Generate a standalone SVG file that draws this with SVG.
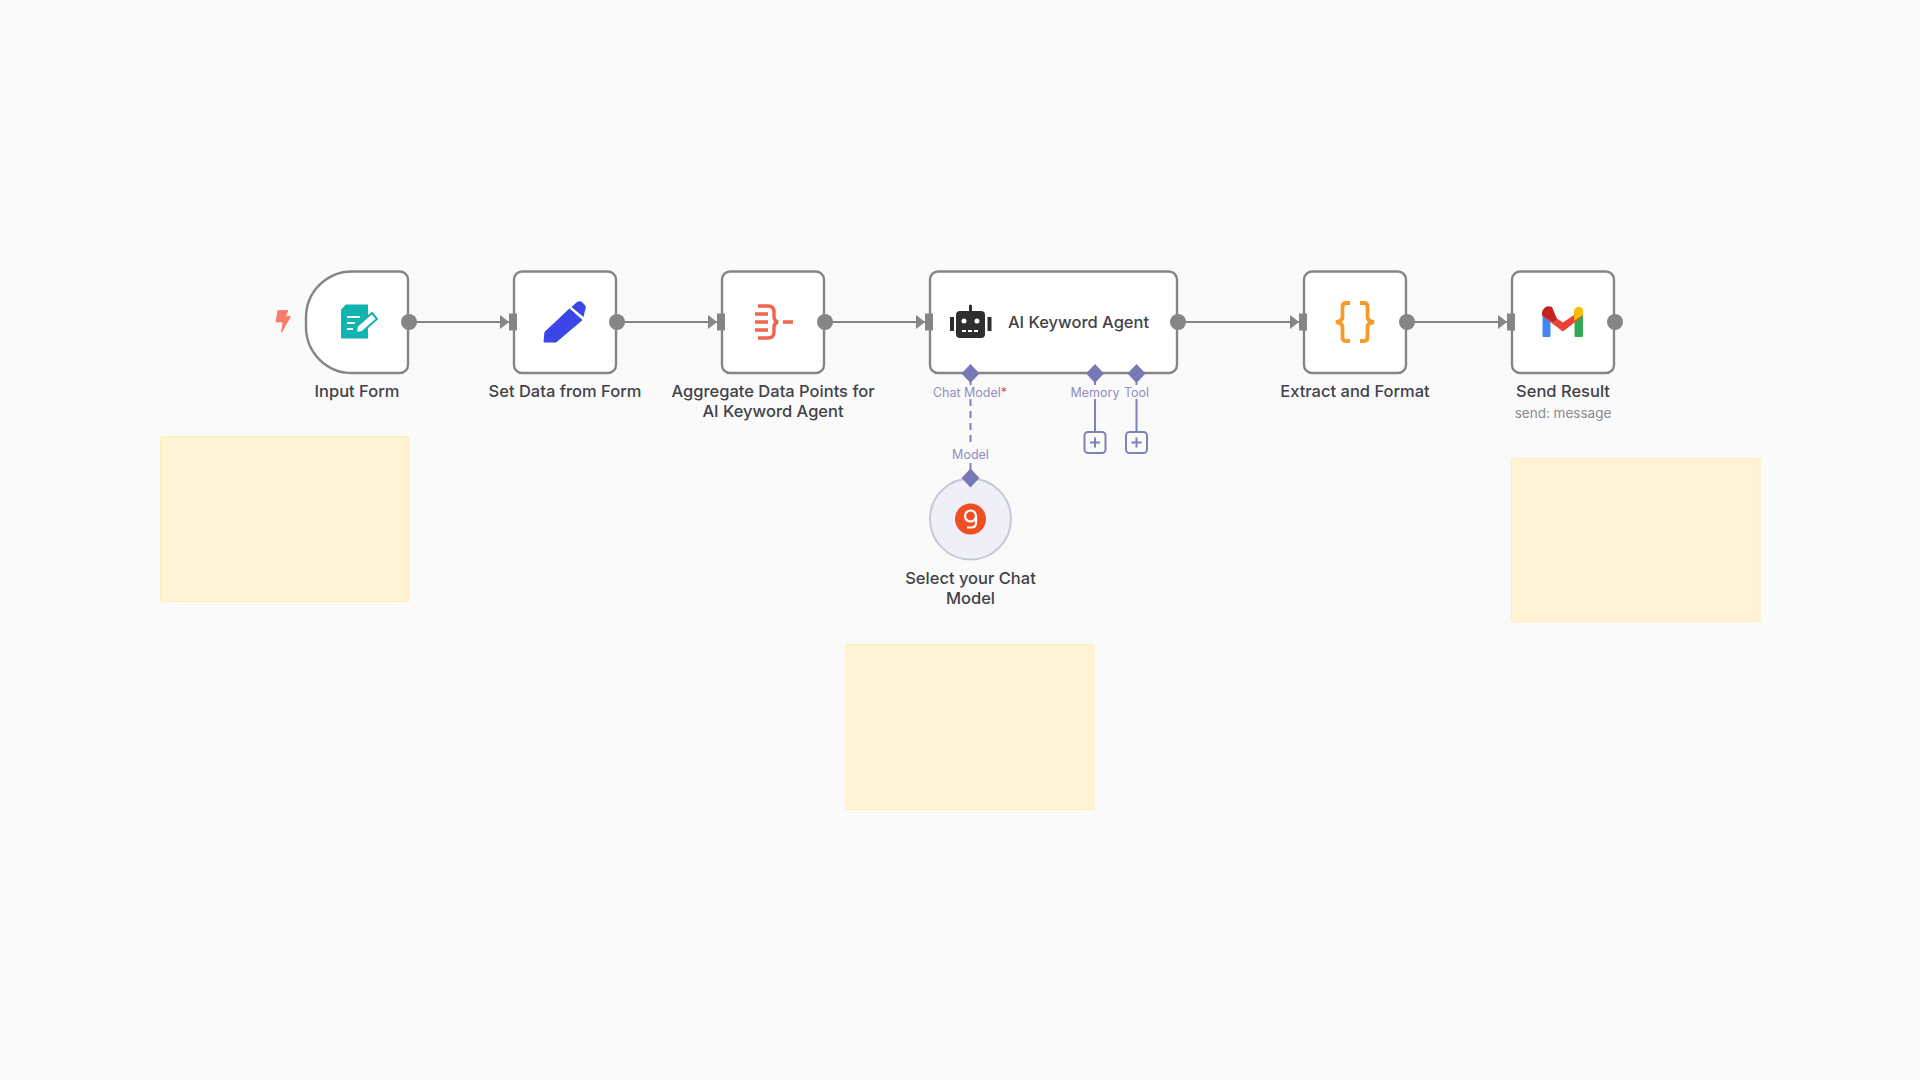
<svg xmlns="http://www.w3.org/2000/svg" width="1920" height="1080" viewBox="0 0 1920 1080">
<defs>
<style>
.node{fill:#fff;stroke:#858585;stroke-width:2.4}
.lbl{font-family:Inter,"Liberation Sans",sans-serif;font-size:16.500px;font-weight:500;fill:#424248;text-anchor:middle}
.sub{font-family:Inter,"Liberation Sans",sans-serif;font-size:13.500px;fill:#8b8b8f;text-anchor:middle}
.port{font-family:Inter,"Liberation Sans",sans-serif;font-size:12.500px;fill:#8f8fbf;text-anchor:middle}
.sticky{fill:#fff3d3;stroke:#fdeec2;stroke-width:1.200}
.edge{fill:none;stroke:#858585;stroke-width:2}
.ai{fill:none;stroke:#7f82b8;stroke-width:2}
.out{fill:#858585}
.dia{fill:#7679b5}
.plus{fill:#fafafa;stroke:#7f82b8;stroke-width:2}
</style>
<marker id="arr" markerWidth="9" markerHeight="16" refX="9" refY="8" orient="auto" markerUnits="userSpaceOnUse"><path d="M0 1L9 8L0 15Z" fill="#858585"/></marker>
</defs>
<rect width="1920" height="1080" fill="#fafafa"/>
<g id="sticky-notes">
<rect class="sticky" x="160.500" y="436.500" width="248.500" height="165" rx="2"/>
<rect class="sticky" x="846" y="644.500" width="248" height="165" rx="2"/>
<rect class="sticky" x="1511.500" y="458" width="248.500" height="164" rx="2"/>
</g>
<g id="connectors">
<path class="edge" d="M409 322H509" marker-end="url(#arr)"/>
<path class="edge" d="M617 322H717" marker-end="url(#arr)"/>
<path class="edge" d="M825 322H925" marker-end="url(#arr)"/>
<path class="edge" d="M1178 322H1299" marker-end="url(#arr)"/>
<path class="edge" d="M1407 322H1507" marker-end="url(#arr)"/>
<path class="ai" d="M970.500 374V385"/>
<path class="ai" d="M970.500 399V447" stroke-dasharray="7 5"/>
<path class="ai" d="M970.500 463V478"/>
<path class="ai" d="M1095 374V385M1095 399V432M1136.500 374V385M1136.500 399V432"/>
</g>
<g id="node-input-form">
<path class="node" d="M352 271.500H400a8 8 0 0 1 8 8V365a8 8 0 0 1 -8 8H352a46 46 0 0 1 -46 -46V317.500a46 46 0 0 1 46 -46Z"/>
<path d="M278 310.500H288L285.500 316.500H290.500L281.500 332.500L283 322H276Z" fill="#fb7b6b" stroke="#fb7b6b" stroke-width="0.800" stroke-linejoin="round"/>
<path d="M346 304.500H368V338.500H341V309.500Z" fill="#0fb5ae"/>
<path d="M341 308.500L345 304.500" stroke="#fff" stroke-width="1"/>
<path d="M347 317H360M347 323H355M347 329H353" stroke="#fff" stroke-width="1.800" fill="none"/>
<path d="M356 333L357 326L372 313L377 319L362 332Z" fill="#fff" stroke="#0fb5ae" stroke-width="2"/>
<circle class="out" cx="409" cy="322" r="8"/>
<text class="lbl" x="357" y="397">Input Form</text>
</g>
<g id="node-set-data">
<rect class="node" x="514" y="271.500" width="102" height="101.500" rx="8"/>
<rect class="out" x="509" y="313.500" width="8" height="17"/>
<path d="M544 342L545 332L569.500 309L582 320L556 342Z" fill="#3b45e8" stroke="#3b45e8" stroke-width="1" stroke-linejoin="round"/>
<path d="M571.500 307L577 302Q579.500 300.500 582 302L585.500 306Q586.500 308.500 585 310.500L583.500 317Z" fill="#3b45e8"/>
<circle class="out" cx="617" cy="322" r="8"/>
<text class="lbl" x="565" y="397">Set Data from Form</text>
</g>
<g id="node-aggregate">
<rect class="node" x="722" y="271.500" width="102" height="101.500" rx="8"/>
<rect class="out" x="717" y="313.500" width="8" height="17"/>
<path d="M758 306H768Q774 306 774 312V317Q774 321 778 322Q774 323 774 327V332Q774 338 768 338H758" fill="none" stroke="#f0634f" stroke-width="3.400"/>
<path d="M755 314H768M755 322H768M755 330H768M783 322H793" fill="none" stroke="#f0634f" stroke-width="3.400"/>
<circle class="out" cx="825" cy="322" r="8"/>
<text class="lbl" x="773" y="397">Aggregate Data Points for</text>
<text class="lbl" x="773" y="417">AI Keyword Agent</text>
</g>
<g id="node-ai-agent">
<rect class="node" x="930" y="271.500" width="247" height="101.500" rx="8"/>
<rect class="out" x="925" y="313.500" width="8" height="17"/>
<rect x="956" y="311" width="29" height="27" rx="4" fill="#2e2e2e"/>
<path d="M970.500 306V311" stroke="#2e2e2e" stroke-width="3" stroke-linecap="round"/>
<rect x="950" y="317" width="4" height="14" fill="#2e2e2e"/>
<rect x="987.500" y="317" width="4" height="14" fill="#2e2e2e"/>
<circle cx="964" cy="321" r="2.500" fill="#fff"/><circle cx="977" cy="321" r="2.500" fill="#fff"/>
<path d="M962 331H979" stroke="#fff" stroke-width="2" stroke-dasharray="4 2"/>
<text class="lbl" x="1078.500" y="328">AI Keyword Agent</text>
<path class="dia" d="M970.500 364L979.500 373.500L970.500 383L961.500 373.500Z"/>
<path class="dia" d="M1095 364L1104 373.500L1095 383L1086 373.500Z"/>
<path class="dia" d="M1136.500 364L1145.500 373.500L1136.500 383L1127.500 373.500Z"/>
<circle class="out" cx="1178" cy="322" r="8"/>
<text class="port" x="970" y="397">Chat Model<tspan fill="#e5484d">*</tspan></text>
<text class="port" x="1095" y="397">Memory</text>
<text class="port" x="1136.500" y="397">Tool</text>
</g>
<g id="plus-memory"><rect class="plus" x="1084.500" y="432" width="21" height="21" rx="3.500"/><path class="ai" d="M1095 437.500V447.500M1090 442.500H1100"/></g>
<g id="plus-tool"><rect class="plus" x="1126" y="432" width="21" height="21" rx="3.500"/><path class="ai" d="M1136.500 437.500V447.500M1131.500 442.500H1141.500"/></g>
<g id="node-chat-model">
<circle cx="970.500" cy="519" r="40.500" fill="#eeeff7" stroke="#c7c8d6" stroke-width="2"/>
<path class="dia" d="M970.500 468.500L979.500 478L970.500 487.500L961.500 478Z"/>
<circle cx="970.500" cy="519" r="15.500" fill="#f04e23"/>
<circle cx="970.500" cy="516" r="5.500" fill="none" stroke="#fff" stroke-width="2.200"/>
<path d="M976 516V523Q976 527.500 971 527.500H967" fill="none" stroke="#fff" stroke-width="2.200"/>
<text class="port" x="970.500" y="459">Model</text>
<text class="lbl" x="970.500" y="584">Select your Chat</text>
<text class="lbl" x="970.500" y="604">Model</text>
</g>
<g id="node-extract">
<rect class="node" x="1304" y="271.500" width="102" height="101.500" rx="8"/>
<rect class="out" x="1299" y="313.500" width="8" height="17"/>
<path d="M1350 303H1346Q1342.500 303 1342.500 307V317Q1342.500 321 1336 322Q1342.500 323 1342.500 327V337Q1342.500 341 1346 341H1350M1360 303H1364Q1367.500 303 1367.500 307V317Q1367.500 321 1374 322Q1367.500 323 1367.500 327V337Q1367.500 341 1364 341H1360" fill="none" stroke="#f59c2a" stroke-width="3.800"/>
<circle class="out" cx="1407" cy="322" r="8"/>
<text class="lbl" x="1355" y="397">Extract and Format</text>
</g>
<g id="node-send-result">
<rect class="node" x="1512" y="271.500" width="102" height="101.500" rx="8"/>
<rect class="out" x="1507" y="313.500" width="8" height="17"/>
<path d="M1543 336.500V312L1550 317V336.500Z" fill="#4285f4" stroke="#4285f4" stroke-linejoin="round"/>
<path d="M1582.500 336.500V312L1575 317V336.500Z" fill="#34a853" stroke="#34a853" stroke-linejoin="round"/>
<path d="M1543 310L1563 323L1582 310V316L1563 331L1543 316Z" fill="#ea4335" stroke="#ea4335" stroke-linejoin="round"/>
<path d="M1542 313Q1544 304 1552 307L1557 319L1553 322L1542 315Z" fill="#c5221f"/>
<path d="M1583 315L1574 321V310Q1578 304 1583 309Z" fill="#fbbc04"/>
<circle class="out" cx="1615" cy="322" r="8"/>
<text class="lbl" x="1563" y="397">Send Result</text>
<text class="sub" x="1563" y="418">send: message</text>
</g>
</svg>
